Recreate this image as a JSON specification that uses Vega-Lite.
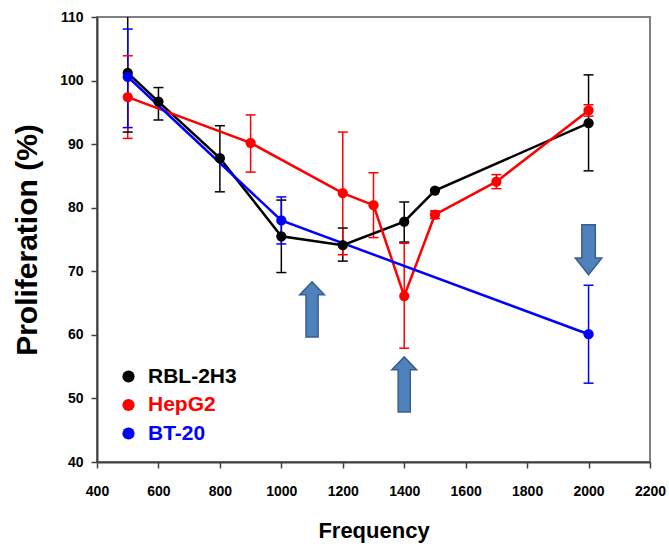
{
  "$schema": "https://vega.github.io/schema/vega-lite/v6.json",
  "width": 553,
  "height": 445,
  "autosize": "none",
  "padding": {"left": 97, "top": 17, "right": 19, "bottom": 85},
  "background": "white",
  "config": {
    "view": {"stroke": "#808080", "strokeWidth": 2},
    "font": "Liberation Sans",
    "axis": {
      "grid": false,
      "domainColor": "#404040",
      "domainWidth": 2,
      "tickColor": "#404040",
      "tickWidth": 1.5,
      "tickSize": 6,
      "labelFont": "Liberation Sans",
      "labelFontWeight": "bold",
      "labelFontSize": 14,
      "labelColor": "black",
      "labelOverlap": false,
      "labelFlush": false,
      "titleFont": "Liberation Sans",
      "titleFontWeight": "bold",
      "titleColor": "black"
    }
  },
  "datasets": {
    "main": [
      {"cell": "RBL-2H3", "freq": 500, "value": 101.2, "lo": 91.9, "hi": 110.5},
      {"cell": "RBL-2H3", "freq": 600, "value": 96.7, "lo": 93.8, "hi": 98.9},
      {"cell": "RBL-2H3", "freq": 800, "value": 87.8, "lo": 82.5, "hi": 92.9},
      {"cell": "RBL-2H3", "freq": 1000, "value": 75.5, "lo": 69.8, "hi": 81.2},
      {"cell": "RBL-2H3", "freq": 1200, "value": 74.1, "lo": 71.6, "hi": 76.8},
      {"cell": "RBL-2H3", "freq": 1400, "value": 77.8, "lo": 74.6, "hi": 80.9},
      {"cell": "RBL-2H3", "freq": 1500, "value": 82.7, "lo": null, "hi": null},
      {"cell": "RBL-2H3", "freq": 2000, "value": 93.3, "lo": 85.8, "hi": 100.9},
      {"cell": "HepG2", "freq": 500, "value": 97.4, "lo": 90.9, "hi": 103.9},
      {"cell": "HepG2", "freq": 900, "value": 90.2, "lo": 85.6, "hi": 94.6},
      {"cell": "HepG2", "freq": 1200, "value": 82.3, "lo": 72.6, "hi": 91.9},
      {"cell": "HepG2", "freq": 1300, "value": 80.4, "lo": 75.3, "hi": 85.5},
      {"cell": "HepG2", "freq": 1400, "value": 66.1, "lo": 57.9, "hi": 74.4},
      {"cell": "HepG2", "freq": 1500, "value": 78.9, "lo": 78.3, "hi": 79.5},
      {"cell": "HepG2", "freq": 1700, "value": 84.1, "lo": 83.0, "hi": 85.2},
      {"cell": "HepG2", "freq": 2000, "value": 95.3, "lo": 94.4, "hi": 96.2},
      {"cell": "BT-20", "freq": 500, "value": 100.6, "lo": 92.6, "hi": 108.1},
      {"cell": "BT-20", "freq": 1000, "value": 78.0, "lo": 74.3, "hi": 81.7},
      {"cell": "BT-20", "freq": 2000, "value": 60.1, "lo": 52.4, "hi": 67.8}
    ],
    "arrows": [
      {"freq": 1100, "value": 64.0, "dir": "up"},
      {"freq": 1400, "value": 52.2, "dir": "up"},
      {"freq": 2000, "value": 73.4, "dir": "down"}
    ]
  },
  "encoding": {
    "x": {
      "field": "freq", "type": "quantitative",
      "scale": {"domain": [400, 2200], "nice": false, "zero": false},
      "axis": {"values": [400, 600, 800, 1000, 1200, 1400, 1600, 1800, 2000, 2200], "format": "d", "labelPadding": 16, "title": "Frequency", "titleFontSize": 22, "titlePadding": 22}
    }
  },
  "layer": [
    {
      "data": {"name": "main"},
      "transform": [{"filter": "datum.lo != null"}],
      "mark": {"type": "rule", "strokeWidth": 1.5, "clip": true},
      "encoding": {
        "y": {"field": "lo", "type": "quantitative"},
        "y2": {"field": "hi"},
        "color": {"field": "cell", "type": "nominal"}
      }
    },
    {
      "data": {"name": "main"},
      "transform": [{"filter": "datum.lo != null"}],
      "mark": {"type": "tick", "orient": "horizontal", "size": 10, "thickness": 1.5, "opacity": 1, "clip": true},
      "encoding": {
        "y": {"field": "lo", "type": "quantitative"},
        "color": {"field": "cell", "type": "nominal"}
      }
    },
    {
      "data": {"name": "main"},
      "transform": [{"filter": "datum.hi != null"}],
      "mark": {"type": "tick", "orient": "horizontal", "size": 10, "thickness": 1.5, "opacity": 1, "clip": true},
      "encoding": {
        "y": {"field": "hi", "type": "quantitative"},
        "color": {"field": "cell", "type": "nominal"}
      }
    },
    {
      "data": {"name": "main"},
      "mark": {"type": "line", "strokeWidth": 2.5},
      "encoding": {
        "y": {"field": "value", "type": "quantitative"},
        "color": {"field": "cell", "type": "nominal"}
      }
    },
    {
      "data": {"name": "main"},
      "mark": {"type": "point", "filled": true, "size": 105, "opacity": 1},
      "encoding": {
        "y": {
          "field": "value", "type": "quantitative",
          "scale": {"domain": [40, 110], "nice": false, "zero": false},
          "axis": {"values": [40, 50, 60, 70, 80, 90, 100, 110], "labelPadding": 8, "title": "Proliferation (%)", "titleFontSize": 30, "titlePadding": 17}
        },
        "color": {
          "field": "cell", "type": "nominal",
          "scale": {"domain": ["RBL-2H3", "HepG2", "BT-20"], "range": ["#000000", "#ff0000", "#0000ff"]},
          "legend": {
            "title": null,
            "orient": "none",
            "legendX": 21,
            "legendY": 349,
            "padding": 0,
            "symbolType": "circle",
            "symbolSize": 150,
            "symbolStrokeWidth": 0,
            "symbolOpacity": 1,
            "labelFont": "Liberation Sans",
            "labelFontWeight": "bold",
            "labelFontSize": 21,
            "labelOffset": 9,
            "rowPadding": 6.5,
            "labelColor": {"expr": "scale('color', datum.value)"}
          }
        }
      }
    },
    {
      "data": {"name": "arrows"},
      "transform": [{"filter": "datum.dir == 'up'"}],
      "mark": {
        "type": "point", "filled": true, "size": 3025,
        "shape": "M-0.22,1L0.22,1L0.22,-0.53L0.45,-0.53L0,-1L-0.45,-0.53L-0.22,-0.53Z",
        "fill": "#4f81bd", "stroke": "#3a5f8f", "strokeWidth": 1.5, "opacity": 1
      },
      "encoding": {
        "y": {"field": "value", "type": "quantitative"}
      }
    },
    {
      "data": {"name": "arrows"},
      "transform": [{"filter": "datum.dir == 'down'"}],
      "mark": {
        "type": "point", "filled": true, "size": 2500,
        "shape": "M-0.27,-1L0.27,-1L0.27,0.33L0.53,0.33L0,1L-0.53,0.33L-0.27,0.33Z",
        "fill": "#4f81bd", "stroke": "#3a5f8f", "strokeWidth": 1.5, "opacity": 1
      },
      "encoding": {
        "y": {"field": "value", "type": "quantitative"}
      }
    }
  ]
}
